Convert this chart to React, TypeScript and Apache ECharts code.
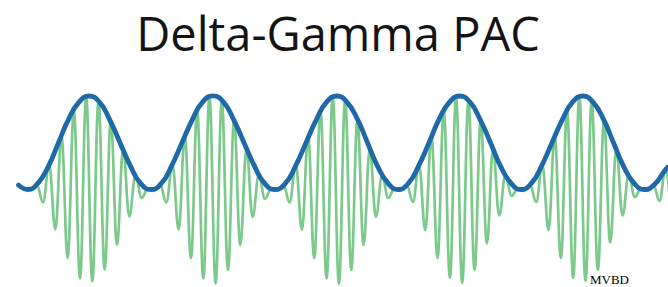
import { useEffect, useRef } from "react";
import * as echarts from "echarts";

// Delta (slow) wave, time in ms, amplitude in µV
const blueTime = [
  37, 56, 76, 97, 117, 137, 158, 178,
  199, 219, 240, 261, 281, 302,
  323, 343, 364, 385, 405, 426,
  447, 467, 488, 509, 529, 550,
  571, 591, 612, 633, 653, 674,
  694, 715, 735, 755, 776, 796,
  817, 837, 858, 878, 899, 919,
  940, 960, 981, 1001, 1022, 1042,
  1063, 1083, 1104, 1125, 1145, 1166,
  1186, 1207, 1227, 1247, 1268, 1289,
  1309, 1329, 1336,
];
const blueValue = [
  5, 0.5, 6.8, 23.9, 47.3, 70.7, 87.8, 94,
  87.8, 70.7, 47.3, 23.9, 6.8, 0.5,
  6.8, 23.9, 47.3, 70.7, 87.8, 94.2,
  87.8, 70.7, 47.3, 23.9, 6.8, 0.5,
  6.8, 23.9, 47.3, 70.7, 87.8, 94,
  87.8, 70.7, 47.3, 23.9, 6.8, 0.5,
  6.8, 23.9, 47.3, 70.7, 87.8, 94,
  87.8, 70.7, 47.3, 23.9, 6.8, 0.5,
  6.8, 23.9, 47.3, 70.7, 87.8, 94,
  87.8, 70.7, 47.3, 23.9, 6.8, 0.5,
  5.5, 19, 23,
];

// Gamma (fast) wave extrema, time in ms, amplitude in µV
const greenTime = [
  61.3, 73.7,
  86.0, 98.3, 110.7, 123.0, 135.3, 147.7, 160.0, 172.3, 184.6, 197.0,
  209.3, 221.6, 234.0, 246.3, 258.6, 271.0, 283.3, 295.6, 307.9, 320.3,
  332.6, 344.9, 357.3, 369.6, 381.9, 394.3, 406.6, 418.9, 431.2, 443.6,
  455.9, 468.2, 480.6, 492.9, 505.2, 517.6, 529.9, 542.2, 554.5, 566.9,
  579.2, 591.5, 603.9, 616.2, 628.5, 640.9, 653.2, 665.5, 677.8, 690.2,
  702.5, 714.8, 727.2, 739.5, 751.8, 764.2, 776.5, 788.8, 801.1, 813.5,
  825.8, 838.1, 850.5, 862.8, 875.1, 887.5, 899.8, 912.1, 924.4, 936.8,
  949.1, 961.4, 973.8, 986.1, 998.4, 1010.8, 1023.1, 1035.4, 1047.7, 1060.1,
  1072.4, 1084.7, 1097.1, 1109.4, 1121.7, 1134.1, 1146.4, 1158.7, 1171.0, 1183.4,
  1195.7, 1208.0, 1220.4, 1232.7, 1245.0, 1257.4, 1269.7, 1282.0, 1294.3, 1306.7,
  1319.0, 1331.3, 1343.7,
];
const greenValue = [
  -0.9, 5.2,
  -12.5, 25.2, -39.5, 53.6, -67.8, 79.6, -88.5, 93.3, -91.5, 89.3,
  -79.5, 69.3, -54.5, 40.9, -26.5, 14.9, -8.0, 1.2, -1.0, 5.2,
  -12.5, 25.2, -39.5, 53.6, -68.0, 79.6, -88.5, 93.3, -93.5, 89.3,
  -80.0, 69.3, -55.0, 40.9, -27.0, 14.9, -9.0, 1.2, -1.0, 5.2,
  -12.5, 25.2, -39.8, 53.6, -68.0, 79.6, -88.5, 93.3, -93.8, 89.3,
  -80.0, 69.3, -55.0, 40.9, -27.0, 14.9, -8.0, 1.2, -1.0, 5.2,
  -12.0, 25.2, -40.0, 53.6, -68.0, 79.6, -88.0, 93.3, -93.0, 89.3,
  -80.0, 69.3, -53.5, 40.9, -25.5, 14.9, -6.0, 1.2, -1.0, 5.2,
  -12.0, 25.2, -40.0, 53.6, -68.0, 79.6, -88.0, 93.3, -91.0, 89.3,
  -80.0, 69.3, -52.5, 40.9, -25.5, 14.9, -7.0, 1.2, -1.0, 5.2,
  -11.0, 22.0, -33.0,
];

const titleText = "Delta-Gamma PAC";
const cornerText = "MVBD";

export default function App() {
  const ref = useRef<HTMLDivElement>(null);
  useEffect(() => {
    document.body.style.margin = "0";
    const chart = echarts.init(ref.current!, null, { renderer: "svg" });
    chart.setOption({
      animation: false,
      backgroundColor: "#ffffff",
      grid: { left: 0, right: 0, top: 90, bottom: 0 },
      xAxis: { type: "value", min: 0, max: 1336, show: false },
      yAxis: { type: "value", min: -97, max: 100, show: false },
      series: [
        {
          type: "line",
          data: greenTime.map((t, i) => [t, greenValue[i]]),
          smooth: 0.4,
          smoothMonotone: "x",
          symbol: "none",
          silent: true,
          clip: false,
          lineStyle: { color: "#7cc98c", width: 2.7 },
          z: 2,
        },
        {
          type: "line",
          data: blueTime.map((t, i) => [t, blueValue[i]]),
          smooth: 0.5,
          symbol: "none",
          silent: true,
          clip: false,
          lineStyle: { color: "#1f6aa6", width: 4.8, cap: "round" },
          z: 3,
        },
      ],
      graphic: [
        {
          type: "text",
          x: 338,
          y: 7,
          style: {
            text: titleText,
            fontFamily: "Open Sans",
            fontSize: 47,
            lineHeight: 52,
            fill: "#141414",
            align: "center",
            verticalAlign: "top",
          },
        },
        {
          type: "text",
          x: 590,
          y: 286,
          style: {
            text: cornerText,
            fontFamily: "Liberation Serif",
            fontSize: 13,
            fill: "#000000",
            align: "left",
            verticalAlign: "bottom",
          },
        },
      ],
    });
    return () => chart.dispose();
  }, []);
  return (
    <div
      ref={ref}
      style={{ position: "fixed", left: 0, top: 0, width: 668, height: 287 }}
    />
  );
}
